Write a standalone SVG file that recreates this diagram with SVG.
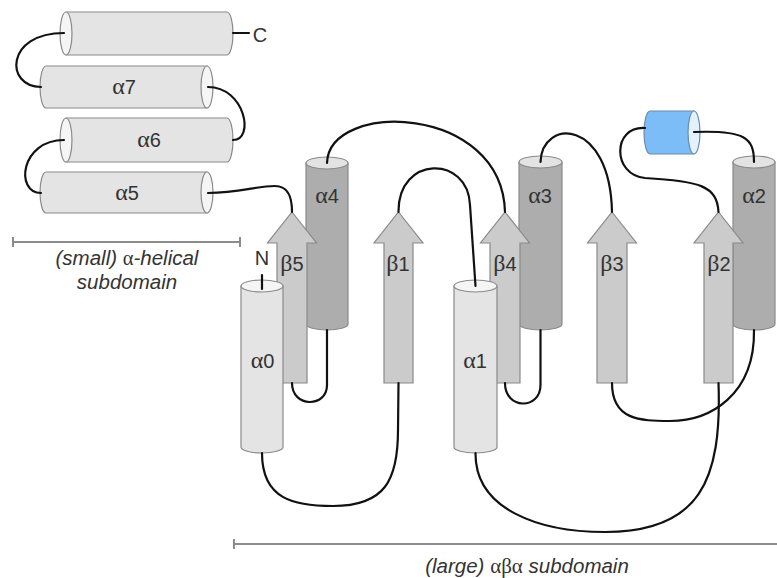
<svg xmlns="http://www.w3.org/2000/svg" width="777" height="578" viewBox="0 0 777 578">
<style>
.sh{stroke:#8a8a8a;stroke-width:1.2}
.hl{fill:#e4e4e4}
.hlc{fill:#f5f5f5}
.hd{fill:#adadad}
.hdc{fill:#e3e3e3}
.st{fill:#cbcbcb}
.bl{fill:#7cbdf8;stroke:#6c8aa8;stroke-width:1.2}
.blc{fill:#e3f1fd;stroke:#6c8aa8;stroke-width:1.2}
.ln{fill:none;stroke:#111;stroke-width:2.2;stroke-linecap:round}
.br{fill:none;stroke:#8c8c8c;stroke-width:2}
.lab{font-family:"Liberation Sans",Arial,sans-serif;font-size:20px;fill:#333;text-anchor:middle}
.gr{font-family:"Liberation Serif","DejaVu Serif",serif;font-size:24px;font-style:normal}
.cap{font-family:"Liberation Sans",Arial,sans-serif;font-size:20.5px;fill:#333;text-anchor:middle;font-style:italic}
</style>
<rect width="777" height="578" fill="#fff"/>

<!-- small subdomain helices -->
<g id="a8">
<path class="sh hl" d="M66 12 L227 12 A6 21.5 0 0 1 227 55 L66 55 Z"/>
<ellipse class="sh hlc" cx="66" cy="33.5" rx="6" ry="21.5"/>
</g>
<g id="a7">
<path class="sh hl" d="M207 66 L46 66 A6 21 0 0 0 46 108 L207 108 Z"/>
<ellipse class="sh hlc" cx="207" cy="87" rx="6" ry="21"/>
<text class="lab" x="124" y="94"><tspan class="gr">α</tspan>7</text>
</g>
<g id="a6">
<path class="sh hl" d="M66 118 L227 118 A6 22 0 0 1 227 162 L66 162 Z"/>
<ellipse class="sh hlc" cx="66" cy="140" rx="6" ry="22"/>
<text class="lab" x="149" y="147"><tspan class="gr">α</tspan>6</text>
</g>
<g id="a5">
<path class="sh hl" d="M207 172 L46 172 A6 20.5 0 0 0 46 213 L207 213 Z"/>
<ellipse class="sh hlc" cx="207" cy="192.5" rx="6" ry="20.5"/>
<text class="lab" x="127" y="200"><tspan class="gr">α</tspan>5</text>
</g>
<g id="Cterm">
<text class="lab" x="260" y="42">C</text>
</g>

<!-- large subdomain -->
<g id="a4">
<path class="sh hd" d="M306 163 L306 324 A21 6 0 0 0 348 324 L348 163 Z"/>
<ellipse class="sh hdc" cx="327" cy="163" rx="21" ry="6"/>
<text class="lab" x="327" y="203"><tspan class="gr">α</tspan>4</text>
</g>
<g id="b5">
<polygon class="sh st" points="292,212 316.5,243 307,243 307,383 277,383 277,243 267.5,243"/>
<text class="lab" x="292" y="271"><tspan class="gr">β</tspan>5</text>
</g>
<g id="a0">
<path class="sh hl" d="M241 286 L241 447 A21 6 0 0 0 283 447 L283 286 Z"/>
<ellipse class="sh hlc" cx="262" cy="286" rx="21" ry="6"/>
<text class="lab" x="262.5" y="368"><tspan class="gr">α</tspan>0</text>
</g>
<g id="Nterm">
<text class="lab" x="262" y="265">N</text>
</g>
<g id="b1">
<polygon class="sh st" points="398.5,212 423,243 413,243 413,383 384,383 384,243 374,243"/>
<text class="lab" x="398" y="271"><tspan class="gr">β</tspan>1</text>
</g>
<g id="a3">
<path class="sh hd" d="M519 162 L519 324 A21.5 6 0 0 0 562 324 L562 162 Z"/>
<ellipse class="sh hdc" cx="540.5" cy="162" rx="21.5" ry="6"/>
<text class="lab" x="540" y="203"><tspan class="gr">α</tspan>3</text>
</g>
<g id="b4">
<polygon class="sh st" points="505,212 529.5,243 520,243 520,383 490,383 490,243 480.5,243"/>
<text class="lab" x="505" y="271"><tspan class="gr">β</tspan>4</text>
</g>
<g id="a1">
<path class="sh hl" d="M454 286 L454 447 A21.5 6 0 0 0 497 447 L497 286 Z"/>
<ellipse class="sh hlc" cx="475.5" cy="286" rx="21.5" ry="6"/>
<text class="lab" x="475" y="368"><tspan class="gr">α</tspan>1</text>
</g>
<g id="b3">
<polygon class="sh st" points="612,212 636.5,243 627,243 627,383 597,383 597,243 587.5,243"/>
<text class="lab" x="612" y="271"><tspan class="gr">β</tspan>3</text>
</g>
<g id="a2">
<path class="sh hd" d="M733 162 L733 324 A21 6 0 0 0 775 324 L775 162 Z"/>
<ellipse class="sh hdc" cx="754" cy="162" rx="21" ry="6"/>
<text class="lab" x="754" y="203"><tspan class="gr">α</tspan>2</text>
</g>
<g id="b2">
<polygon class="sh st" points="718.5,212 743,243 733,243 733,383 704,383 704,243 694,243"/>
<text class="lab" x="719" y="271"><tspan class="gr">β</tspan>2</text>
</g>
<g id="blue">
<path class="bl" d="M694 111 L650 111 A6 21.5 0 0 0 650 154 L694 154 Z"/>
<ellipse class="blc" cx="694" cy="132.5" rx="6" ry="21.5"/>
</g>

<!-- connectors -->
<g id="connectors">
<path class="ln" d="M233 33 L249 33"/>
<path class="ln" d="M262 275 L262 289"/>
<path class="ln" d="M64 33 C5 33 5 87 41 87"/>
<path class="ln" d="M208 87 C245 87 255 140 233 140"/>
<path class="ln" d="M64 140 C20 140 15 193 41 193"/>
<path class="ln" d="M208 193 C240 193 255 186 275 186 C290 186 292 200 292 212"/>
<path class="ln" d="M327 163 C329 100 502 104 505 212"/>
<path class="ln" d="M327 330 L327 385 C327 408 292 408 292 383"/>
<path class="ln" d="M262 453 C262 500 295 506 333 506 C385 506 398 480 398 430 L398.5 383"/>
<path class="ln" d="M398.5 212 C398 155 468 155 470 205 L475.5 286"/>
<path class="ln" d="M540.5 162 C542 118 610 118 612 212"/>
<path class="ln" d="M540.5 330 L540.5 385 C540.5 410 505 410 505 383"/>
<path class="ln" d="M475.5 453 C475 510 540 532 605 532 C700 532 722 480 718.5 383"/>
<path class="ln" d="M612 383 C612 420 640 421 670 421 C710 421 755 395 754 330"/>
<path class="ln" d="M645 128 C612 126 612 175 645 178 C700 181 717 186 718.5 212"/>
<path class="ln" d="M694 132 C745 130 754 138 754 162"/>
</g>

<!-- subdomain brackets -->
<g id="small-domain">
<path class="br" d="M13 242 L240 242 M13 237 L13 247 M240 237 L240 247"/>
<text class="cap" x="127" y="265">(small) <tspan class="gr" style="font-size:20.5px">α</tspan>-helical</text>
<text class="cap" x="127" y="289">subdomain</text>
</g>
<g id="large-domain">
<path class="br" d="M234 544 L777 544 M234 539 L234 549"/>
<text class="cap" x="527" y="573">(large) <tspan class="gr" style="font-size:21px">αβα</tspan> subdomain</text>
</g>
</svg>
